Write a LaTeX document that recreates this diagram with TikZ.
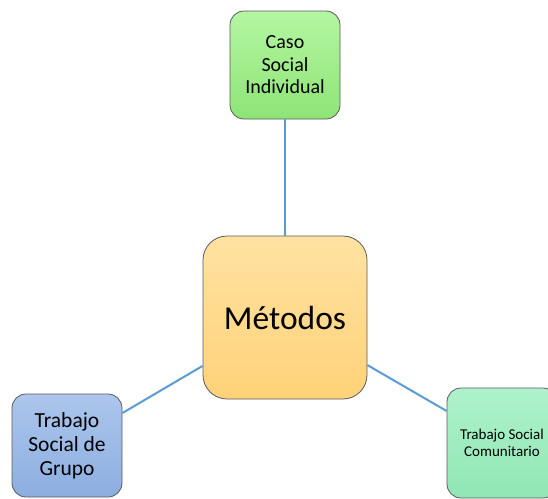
\documentclass[tikz,border=0pt]{standalone}
\usepackage{fontspec}
\setmainfont{Carlito}
\definecolor{lineblue}{RGB}{91,155,213}
\definecolor{boxborder}{RGB}{90,90,90}
\definecolor{gtop}{RGB}{180,246,162}
\definecolor{gbot}{RGB}{142,228,118}
\definecolor{otop}{RGB}{255,226,162}
\definecolor{obot}{RGB}{255,210,120}
\definecolor{btop}{RGB}{172,198,236}
\definecolor{bbot}{RGB}{140,174,224}
\definecolor{mtop}{RGB}{174,242,204}
\definecolor{mbot}{RGB}{144,230,180}
\begin{document}
\begin{tikzpicture}[x=1pt,y=-1pt,
  box/.style={rectangle,draw=boxborder,line width=0.8pt,inner sep=0pt,align=center,text=black},
  conn/.style={draw=lineblue,line width=2pt}]
\clip (0,0) rectangle (548,498);
\useasboundingbox (0,0) rectangle (548,498);
\node[box,rounded corners=14pt,minimum width=110pt,minimum height=108pt,top color=gtop,bottom color=gbot,
  font=\fontsize{20}{22.5}\selectfont] (caso) at (285,65) {Caso\\Social\\Individual};
\node[box,rounded corners=24pt,minimum width=164pt,minimum height=163pt,top color=otop,bottom color=obot,
  font=\fontsize{33.5}{38}\selectfont] (met) at (285,317.5) {Métodos};
\node[box,rounded corners=14pt,minimum width=110pt,minimum height=103pt,top color=btop,bottom color=bbot,
  font=\fontsize{21.5}{24}\selectfont] (grupo) at (67,445.5) {Trabajo\\Social de\\Grupo};
\node[box,rounded corners=14pt,minimum width=110pt,minimum height=110pt,top color=mtop,bottom color=mbot,
  font=\fontsize{15}{16.5}\selectfont] (com) at (502,443) {Trabajo Social\\Comunitario};
\draw[conn] (caso) -- (met);
\draw[conn] (met) -- (grupo);
\draw[conn] (met) -- (com);
\end{tikzpicture}
\end{document}
